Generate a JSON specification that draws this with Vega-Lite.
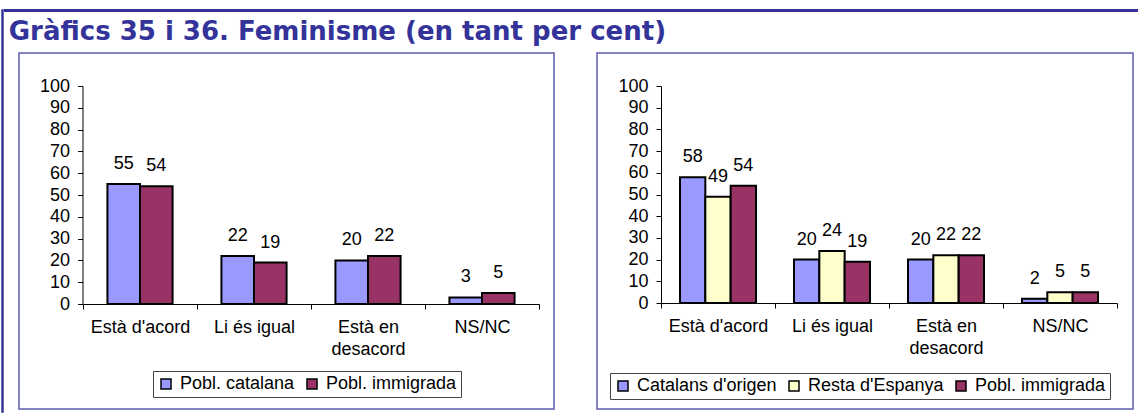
{
  "$schema": "https://vega.github.io/schema/vega-lite/v6.json",
  "background": "white",
  "padding": {"left": 1, "top": 9, "right": 0, "bottom": 0},
  "config": {"font": "Liberation Sans", "view": {"stroke": null}},
  "datasets": {
    "esquerra": [
      {"resposta": "Està d'acord", "grup": "Pobl. catalana", "valor": 55},
      {"resposta": "Està d'acord", "grup": "Pobl. immigrada", "valor": 54},
      {"resposta": "Li és igual", "grup": "Pobl. catalana", "valor": 22},
      {"resposta": "Li és igual", "grup": "Pobl. immigrada", "valor": 19},
      {"resposta": "Està en desacord", "grup": "Pobl. catalana", "valor": 20},
      {"resposta": "Està en desacord", "grup": "Pobl. immigrada", "valor": 22},
      {"resposta": "NS/NC", "grup": "Pobl. catalana", "valor": 3},
      {"resposta": "NS/NC", "grup": "Pobl. immigrada", "valor": 5}
    ],
    "dreta": [
      {"resposta": "Està d'acord", "grup": "Catalans d'origen", "valor": 58},
      {"resposta": "Està d'acord", "grup": "Resta d'Espanya", "valor": 49},
      {"resposta": "Està d'acord", "grup": "Pobl. immigrada", "valor": 54},
      {"resposta": "Li és igual", "grup": "Catalans d'origen", "valor": 20},
      {"resposta": "Li és igual", "grup": "Resta d'Espanya", "valor": 24},
      {"resposta": "Li és igual", "grup": "Pobl. immigrada", "valor": 19},
      {"resposta": "Està en desacord", "grup": "Catalans d'origen", "valor": 20},
      {"resposta": "Està en desacord", "grup": "Resta d'Espanya", "valor": 22},
      {"resposta": "Està en desacord", "grup": "Pobl. immigrada", "valor": 22},
      {"resposta": "NS/NC", "grup": "Catalans d'origen", "valor": 2},
      {"resposta": "NS/NC", "grup": "Resta d'Espanya", "valor": 5},
      {"resposta": "NS/NC", "grup": "Pobl. immigrada", "valor": 5}
    ]
  },
  "spacing": 0,
  "hconcat": [
    {
      "width": 1, "height": 402,
      "data": {"values": []},
      "mark": "point",
      "view": {"stroke": "#333399", "strokeWidth": 1.5, "fill": "#333399"}
    },
    {
      "spacing": 7,
      "vconcat": [
        {
          "width": 1136, "height": 1,
          "data": {"values": []},
          "mark": "point",
          "view": {"stroke": "#333399", "strokeWidth": 2, "fill": "#333399"}
        },
        {
          "spacing": 2,
          "hconcat": [
            {
              "width": 1, "height": 1,
              "data": {"values": []},
              "mark": "point",
              "view": {"stroke": null}
            },
            {
              "title": {
                "text": "Gràfics 35 i 36. Feminisme (en tant per cent)",
                "anchor": "start",
                "dx": -9.5,
                "offset": 7,
                "font": "DejaVu Sans",
                "fontSize": 26,
                "fontWeight": "bold",
                "color": "#333399"
              },
              "spacing": 41,
              "resolve": {
                "scale": {"x": "independent", "y": "independent", "xOffset": "independent", "color": "independent"},
                "legend": {"color": "independent"},
                "axis": {"x": "independent", "y": "independent"}
              },
              "hconcat": [
                {
                  "width": 535, "height": 356,
                  "view": {"stroke": "#5c5cb0", "strokeWidth": 1.5},
                  "data": {"name": "esquerra"},
                  "encoding": {
                    "x": {
                      "field": "resposta", "type": "nominal",
                      "sort": ["Està d'acord", "Li és igual", "Està en desacord", "NS/NC"],
                      "scale": {"range": [64, 520], "paddingInner": 0, "paddingOuter": 0},
                      "axis": {
                        "title": null, "orient": "bottom", "offset": -105, "labelAngle": 0,
                        "tickBand": "extent", "tickSize": 5, "tickColor": "black", "domainColor": "black",
                        "labelColor": "black", "labelFontSize": 18, "labelPadding": 9, "labelLineHeight": 22,
                        "labelExpr": "datum.value == 'Està en desacord' ? ['Està en', 'desacord'] : datum.label"
                      }
                    },
                    "xOffset": {
                      "field": "grup", "type": "nominal",
                      "sort": ["Pobl. catalana", "Pobl. immigrada"],
                      "scale": {"paddingInner": 0, "paddingOuter": 0.75}
                    },
                    "y": {
                      "field": "valor", "type": "quantitative",
                      "scale": {"domain": [0, 100], "range": [251, 33], "nice": false},
                      "axis": {
                        "title": null, "offset": -63.5, "values": [0, 10, 20, 30, 40, 50, 60, 70, 80, 90, 100],
                        "grid": false, "tickSize": 5, "tickColor": "black", "domainColor": "black",
                        "labelColor": "black", "labelFontSize": 18, "labelPadding": 8,
                        "labelOverlap": false, "labelFlush": false
                      }
                    }
                  },
                  "layer": [
                    {
                      "mark": {"type": "bar", "stroke": "black", "strokeWidth": 2},
                      "encoding": {
                        "color": {
                          "field": "grup", "type": "nominal",
                          "scale": {"domain": ["Pobl. catalana", "Pobl. immigrada"], "range": ["#9999FF", "#993366"]},
                          "legend": {
                            "title": null, "orient": "none", "legendX": 134, "legendY": 318,
                            "direction": "horizontal", "strokeColor": "#444444", "fillColor": "white",
                            "padding": 4, "symbolType": "square", "symbolSize": 100,
                            "symbolStrokeColor": "black", "symbolStrokeWidth": 1.5,
                            "labelFontSize": 18, "labelColor": "black", "labelOffset": 5, "columnPadding": 8
                          }
                        }
                      }
                    },
                    {
                      "mark": {"type": "text", "baseline": "alphabetic", "dy": -15, "fontSize": 18, "color": "black"},
                      "encoding": {"text": {"field": "valor", "type": "quantitative"}}
                    }
                  ]
                },
                {
                  "width": 536, "height": 356,
                  "view": {"stroke": "#5c5cb0", "strokeWidth": 1.5},
                  "data": {"name": "dreta"},
                  "encoding": {
                    "x": {
                      "field": "resposta", "type": "nominal",
                      "sort": ["Està d'acord", "Li és igual", "Està en desacord", "NS/NC"],
                      "scale": {"range": [64, 520], "paddingInner": 0, "paddingOuter": 0},
                      "axis": {
                        "title": null, "orient": "bottom", "offset": -106, "labelAngle": 0,
                        "tickBand": "extent", "tickSize": 5, "tickColor": "black", "domainColor": "black",
                        "labelColor": "black", "labelFontSize": 18, "labelPadding": 9, "labelLineHeight": 22,
                        "labelExpr": "datum.value == 'Està en desacord' ? ['Està en', 'desacord'] : datum.label"
                      }
                    },
                    "xOffset": {
                      "field": "grup", "type": "nominal",
                      "sort": ["Catalans d'origen", "Resta d'Espanya", "Pobl. immigrada"],
                      "scale": {"paddingInner": 0, "paddingOuter": 0.75}
                    },
                    "y": {
                      "field": "valor", "type": "quantitative",
                      "scale": {"domain": [0, 100], "range": [250, 33], "nice": false},
                      "axis": {
                        "title": null, "offset": -64, "values": [0, 10, 20, 30, 40, 50, 60, 70, 80, 90, 100],
                        "grid": false, "tickSize": 5, "tickColor": "black", "domainColor": "black",
                        "labelColor": "black", "labelFontSize": 18, "labelPadding": 8,
                        "labelOverlap": false, "labelFlush": false
                      }
                    }
                  },
                  "layer": [
                    {
                      "mark": {"type": "bar", "stroke": "black", "strokeWidth": 2},
                      "encoding": {
                        "color": {
                          "field": "grup", "type": "nominal",
                          "scale": {"domain": ["Catalans d'origen", "Resta d'Espanya", "Pobl. immigrada"], "range": ["#9999FF", "#FFFFCC", "#993366"]},
                          "legend": {
                            "title": null, "orient": "none", "legendX": 13, "legendY": 320,
                            "direction": "horizontal", "strokeColor": "#444444", "fillColor": "white",
                            "padding": 4, "symbolType": "square", "symbolSize": 100,
                            "symbolStrokeColor": "black", "symbolStrokeWidth": 1.5,
                            "labelFontSize": 18, "labelColor": "black", "labelOffset": 5, "columnPadding": 8
                          }
                        }
                      }
                    },
                    {
                      "mark": {"type": "text", "baseline": "alphabetic", "dy": -15, "fontSize": 18, "color": "black"},
                      "encoding": {"text": {"field": "valor", "type": "quantitative"}}
                    }
                  ]
                }
              ]
            }
          ]
        }
      ]
    }
  ]
}
